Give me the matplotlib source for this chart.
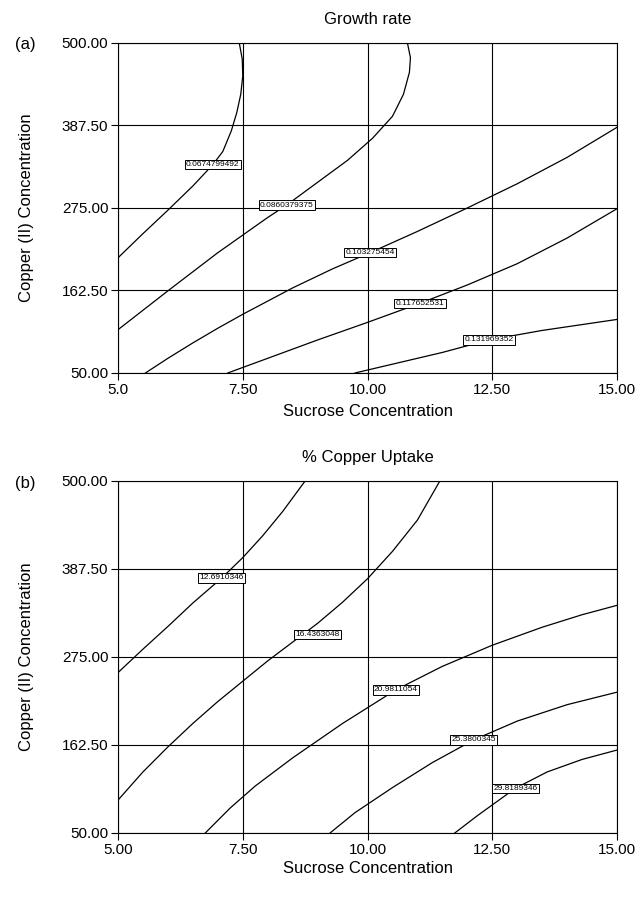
import matplotlib
matplotlib.use("Agg")
import matplotlib.pyplot as plt

plt.rcParams['font.family'] = ['Liberation Sans', 'DejaVu Sans']

# ---- (a) Growth rate : contour lines ----
growth_lines = [
    ([5.0, 5.5, 6.0, 6.5, 6.9, 7.1, 7.27, 7.38, 7.46, 7.5, 7.49, 7.43],
     [207, 240, 272, 305, 334, 352, 380, 405, 430, 455, 478, 500]),
    ([5.0, 6.0, 7.0, 8.0, 8.38, 9.0, 9.6, 10.1, 10.5, 10.72, 10.84, 10.86, 10.8],
     [109, 162, 214, 262, 279, 310, 340, 370, 400, 430, 460, 480, 500]),
    ([5.55, 6.0, 6.5, 7.0, 7.5, 8.5, 9.3, 10.05, 11.0, 12.0, 13.0, 14.0, 15.0],
     [50, 70, 91, 111, 130, 166, 192, 214, 243, 275, 308, 344, 385]),
    ([7.2, 8.0, 9.0, 10.0, 11.05, 12.0, 13.0, 14.0, 15.0],
     [50, 70, 95, 119, 145, 170, 199, 234, 274]),
    ([9.75, 10.5, 11.5, 12.43, 13.5, 14.3, 15.0],
     [50, 62, 78, 95, 108, 116, 123]),
]
growth_labels = ['0.0674799492', '0.0860379375', '0.103275454',
                 '0.117652531', '0.131969352']
growth_label_pos = [(6.9, 334), (8.38, 279), (10.05, 214), (11.05, 145), (12.43, 95)]

# ---- (b) % Copper Uptake ----
uptake_lines = [
    ([5.0, 5.5, 6.0, 6.5, 7.08, 7.5, 7.9, 8.3, 8.75],
     [255, 285, 314, 344, 376, 402, 430, 461, 500]),
    ([5.0, 5.5, 6.0, 6.5, 7.0, 7.5, 8.0, 8.5, 9.0, 9.5, 10.0, 10.5, 11.0, 11.45],
     [92, 128, 160, 190, 218, 244, 270, 294, 318, 345, 375, 410, 450, 500]),
    ([6.75, 7.25, 7.75, 8.5, 9.5, 10.57, 11.5, 12.5, 13.5, 14.3, 15.0],
     [50, 82, 110, 146, 190, 233, 263, 290, 313, 329, 341]),
    ([9.25, 9.75, 10.5, 11.3, 12.13, 13.0, 14.0, 15.0],
     [50, 76, 108, 140, 169, 193, 214, 230]),
    ([11.75, 12.2, 12.96, 13.6, 14.3, 15.0],
     [50, 72, 107, 128, 144, 156]),
]
uptake_labels = ['12.6910346', '16.4363048', '20.9811054', '25.3800345', '29.8189346']
uptake_label_pos = [(7.08, 376), (9.0, 304), (10.57, 233), (12.13, 169), (12.96, 107)]

y_ticks = [50.0, 162.5, 275.0, 387.5, 500.0]
x_ticks = [5.0, 7.5, 10.0, 12.5, 15.0]
x_labels_a = ['5.0', '7.50', '10.00', '12.50', '15.00']
x_labels_b = ['5.00', '7.50', '10.00', '12.50', '15.00']

fig = plt.figure(figsize=(6.42, 8.97), dpi=100)
ax_a = fig.add_axes([0.1838, 0.5842, 0.7773, 0.3679])
ax_b = fig.add_axes([0.1838, 0.0714, 0.7773, 0.3924])


def draw_panel(ax, lines, labels, label_pos, title, xlabels, xpad):
    for xs, ys in lines:
        ax.plot(xs, ys, color='black', lw=0.9, zorder=2)
    for txt, (lx, ly) in zip(labels, label_pos):
        ax.text(lx, ly, txt, fontsize=6, ha='center', va='center', zorder=4,
                bbox=dict(boxstyle='square,pad=0.15', fc='white', ec='black', lw=0.7))
    ax.set_xlim(5, 15)
    ax.set_ylim(50, 500)
    ax.set_xticks(x_ticks)
    ax.set_xticklabels(xlabels)
    ax.set_yticks(y_ticks)
    ax.set_yticklabels(['%.2f' % v for v in y_ticks])
    ax.grid(True, color='black', lw=0.8)
    ax.set_axisbelow(True)
    ax.tick_params(direction='out', length=5, width=0.8, labelsize=11, pad=2)
    for s in ax.spines.values():
        s.set_linewidth(0.8)
    ax.set_title(title, fontsize=12, pad=14)
    ax.set_xlabel('Sucrose Concentration', fontsize=12, labelpad=xpad)
    ax.set_ylabel('Copper (II) Concentration', fontsize=12, labelpad=20)


draw_panel(ax_a, growth_lines, growth_labels, growth_label_pos, 'Growth rate', x_labels_a, 5)
draw_panel(ax_b, uptake_lines, uptake_labels, uptake_label_pos, '% Copper Uptake', x_labels_b, 3)

fig.text(25 / 642, 1 - 45 / 897, '(a)', fontsize=12, ha='center', va='center')
fig.text(25 / 642, 1 - 483 / 897, '(b)', fontsize=12, ha='center', va='center')

fig.savefig('out.png', dpi=100)
